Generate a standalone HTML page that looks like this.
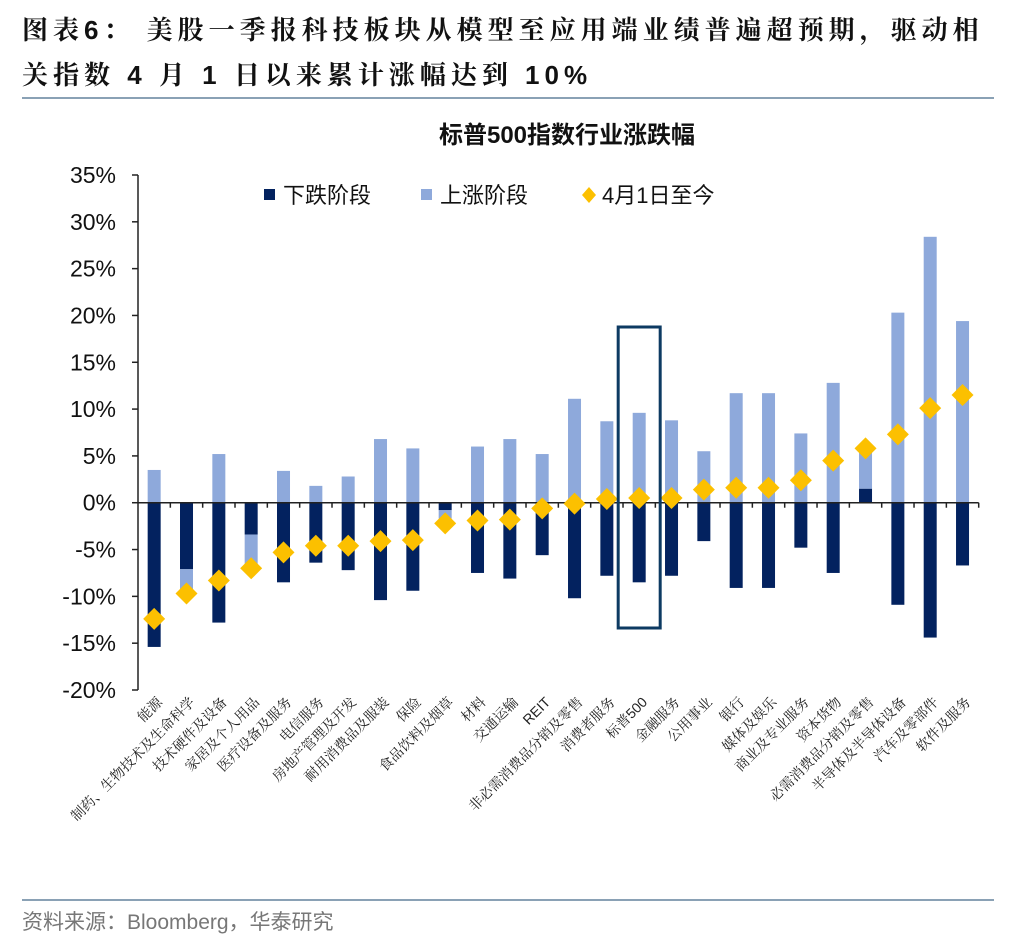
<!DOCTYPE html>
<html><head><meta charset="utf-8">
<style>
body{margin:0;background:#fff;width:1024px;height:952px;overflow:hidden;font-family:"Liberation Sans","Noto Sans CJK SC",sans-serif}
.hdr{position:absolute;left:22px;top:8px;width:1010px;font-size:26px;font-weight:bold;line-height:45px;color:#111;letter-spacing:5px;white-space:nowrap;font-family:"Liberation Sans","Noto Serif CJK SC",serif}
.rule{position:absolute;left:22px;width:972px;height:2px;background:#8aa1b5}
.src{position:absolute;left:22px;top:906px;font-size:21px;color:#777}
</style></head><body>
<div class="hdr">图表6： 美股一季报科技板块从模型至应用端业绩普遍超预期，驱动相<br>关指数 4 月 1 日以来累计涨幅达到 10%</div>
<div class="rule" style="top:97px"></div>
<div class="rule" style="top:899px"></div>
<div class="src">资料来源：Bloomberg，华泰研究</div>
<svg id="chart" width="1024" height="952" style="position:absolute;left:0;top:0"></svg>
<script>
const categories=["能源","制药、生物技术及生命科学","技术硬件及设备","家居及个人用品","医疗设备及服务","电信服务","房地产管理及开发","耐用消费品及服装","保险","食品饮料及烟草","材料","交通运输","REIT","非必需消费品分销及零售","消费者服务","标普500","金融服务","公用事业","银行","媒体及娱乐","商业及专业服务","资本货物","必需消费品分销及零售","半导体及半导体设备","汽车及零部件","软件及服务"];
const downValues=[-15.4,-7.1,-12.8,-3.4,-8.5,-6.4,-7.2,-10.4,-9.4,-0.8,-7.5,-8.1,-5.6,-10.2,-7.8,-8.5,-7.8,-4.1,-9.1,-9.1,-4.8,-7.5,1.5,-10.9,-14.4,-6.7];
const upValues=[3.5,-2.5,5.2,-3.4,3.4,1.8,2.8,6.8,5.8,-0.9,6.0,6.8,5.2,11.1,8.7,9.6,8.8,5.5,11.7,11.7,7.4,12.8,4.3,20.3,28.4,19.4];
const sinceApril=[-12.4,-9.7,-8.3,-7.0,-5.3,-4.6,-4.6,-4.1,-4.0,-2.2,-1.9,-1.8,-0.6,-0.1,0.4,0.5,0.5,1.4,1.6,1.6,2.4,4.5,5.8,7.3,10.1,11.5];
const yTicks=[35,30,25,20,15,10,5,0,-5,-10,-15,-20];
const highlightCategory="标普500";
const NS="http://www.w3.org/2000/svg",svg=document.getElementById('chart');
const x0=138,x1=978.7,yTop=175,yBot=690,yMin=-20,yMax=35;
const step=(x1-x0)/categories.length;
const xC=i=>x0+step*(i+0.5);
const y=v=>yBot-(v-yMin)/(yMax-yMin)*(yBot-yTop);
function mk(t,a,p){const e=document.createElementNS(NS,t);for(const k in a)e.setAttribute(k,a[k]);(p||svg).appendChild(e);return e;}
let t=mk('text',{x:567,y:143,'text-anchor':'middle','font-size':24,'font-weight':'bold',fill:'#111'});t.textContent='标普500指数行业涨跌幅';


let ax=mk('line',{x1:x0,y1:yTop,x2:x0,y2:yBot,stroke:'#222','stroke-width':1.5});


yTicks.forEach(v=>{
 const tk=mk('line',{x1:x0-6,y1:y(v),x2:x0,y2:y(v),stroke:'#222','stroke-width':1.5});
 
 
 const l=mk('text',{x:116,y:y(v)+8,'text-anchor':'end','font-size':23,fill:'#111'});l.textContent=v+'%';
 
 
});
const bw=13;
categories.forEach((c,i)=>{
 let pos=0,neg=0;
 [[downValues[i],'#03225f','bar-down'],[upValues[i],'#8ea9db','bar-up']].forEach(([v,col,nm])=>{
  let a,b;if(v>=0){a=pos;b=pos+v;pos=b;}else{a=neg;b=neg+v;neg=b;}
  const r=mk('rect',{x:xC(i)-bw/2,y:Math.min(y(a),y(b)),width:bw,height:Math.abs(y(a)-y(b)),fill:col});
  
  
 });
});
let xa=mk('line',{x1:x0,y1:y(0),x2:x1,y2:y(0),stroke:'#222','stroke-width':1.5});


categories.forEach((c,i)=>{
 const xt=x0+step*(i+1);
 const tk=mk('line',{x1:xt,y1:y(0),x2:xt,y2:y(0)+5,stroke:'#222','stroke-width':1.5});
 
 
 const cx=xC(i)+9,cy=703;
 const l=mk('text',{x:cx,y:cy,'text-anchor':'end','font-size':14,fill:'#222','font-family':'"Liberation Sans","Noto Serif CJK SC",serif',transform:`rotate(-45 ${cx} ${cy})`});
 l.textContent=c;
 
 
});
sinceApril.forEach((v,i)=>{
 const cx=xC(i),cy=y(v),s=11;
 const d=mk('polygon',{points:`${cx},${cy-s} ${cx+s},${cy} ${cx},${cy+s} ${cx-s},${cy}`,fill:'#fcc000'});
 
 
});
const hi=categories.indexOf(highlightCategory);
const hr=mk('rect',{x:xC(hi)-21,y:327,width:42,height:301,fill:'none',stroke:'#0d3a62','stroke-width':3});


const lg=[[264,'#03225f','下跌阶段','rect'],[421,'#8ea9db','上涨阶段','rect'],[583,'#fcc000','4月1日至今','dia']];
lg.forEach(([lx,col,txt,sh])=>{
 let m;
 if(sh==='rect')m=mk('rect',{x:lx,y:189,width:11,height:11,fill:col});
 else m=mk('polygon',{points:`${lx+6},${187} ${lx+13},${195} ${lx+6},${203} ${lx-1},${195}`,fill:col});
 
 
 const l=mk('text',{x:lx+19,y:203,'font-size':22,fill:'#111'});l.textContent=txt;
 
 
});
</script>
</body></html>
